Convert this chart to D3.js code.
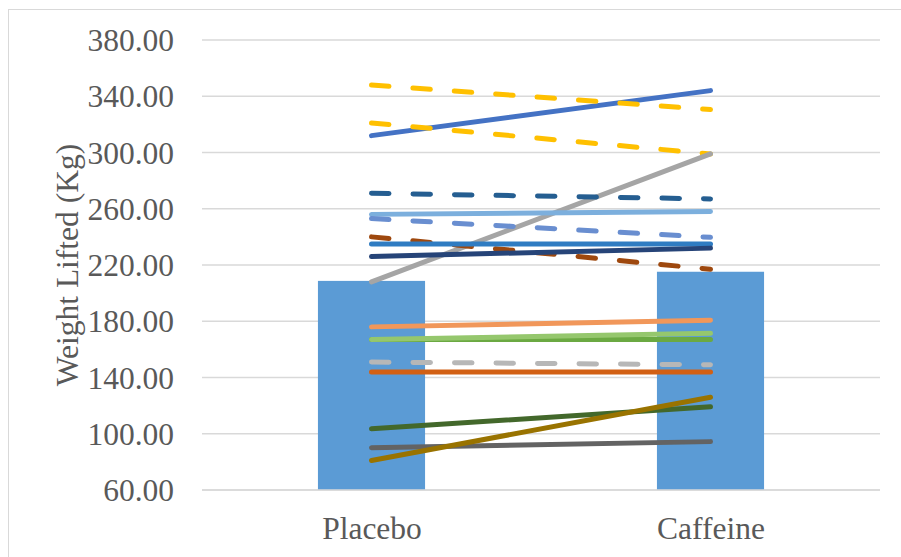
<!DOCTYPE html>
<html>
<head>
<meta charset="utf-8">
<script src="https://cdn.jsdelivr.net/npm/d3@7"></script>
<style>
  html, body { margin: 0; padding: 0; background: #fff; }
  svg { display: block; }
  svg text { font-family: "Liberation Serif", "Times New Roman", serif; }
</style>
</head>
<body>
<svg id="chart" width="901" height="557"></svg>
<script>
// ---- data ----
const categories = ["Placebo", "Caffeine"];
const barMeans = [208.7, 215.2];
const yTicks = [60, 100, 140, 180, 220, 260, 300, 340, 380];

const placebo  = [312, 348, 321, 208, 271, 256, 253, 240, 235, 226, 176, 167, 167, 151, 144, 103.5, 90, 81];
const caffeine = [344, 330.5, 299, 299, 267, 258, 239.7, 217, 235, 232, 180.7, 167, 171.4, 149, 144, 119.2, 94.4, 126];
const lineColors = ["#4472C4", "#FFC000", "#FFC000", "#A5A5A5", "#255E91", "#7CAFDD", "#698ED0", "#9E480E",
                    "#2F7CC2", "#264478", "#F1975A", "#6BA942", "#95C76D", "#B7B7B7", "#D26014", "#43682B", "#636363", "#997300"];
const lineDashed = [false, true, true, false, true, false, true, true,
                    false, false, false, false, false, true, false, false, false, false];

// ---- layout ----
const svg = d3.select("#chart");
const plot = { left: 202, right: 880, top: 40, bottom: 490 };
const textColor = "#595959";

// chart border
svg.append("rect")
  .attr("x", 8.5).attr("y", 9.5)
  .attr("width", 910).attr("height", 570)
  .attr("fill", "none").attr("stroke", "#D9D9D9").attr("stroke-width", 1);

const y = d3.scaleLinear().domain([60, 380]).range([plot.bottom, plot.top]);
const x = d3.scalePoint().domain(categories).range([plot.left, plot.right]).padding(0.5);
const barW = x.step() * 0.316;

// gridlines
svg.append("g").selectAll("line").data(yTicks).join("line")
  .attr("x1", plot.left).attr("x2", plot.right)
  .attr("y1", d => y(d)).attr("y2", d => y(d))
  .attr("stroke", "#D9D9D9").attr("stroke-width", 1.3);

// y axis labels
const yAxis = d3.axisLeft(y).tickValues(yTicks).tickFormat(d3.format(".2f")).tickSize(0).tickPadding(28);
const yg = svg.append("g").attr("transform", `translate(${plot.left},0)`).call(yAxis);
yg.attr("font-family", null);
yg.select(".domain").remove();
yg.selectAll("text")
  .attr("font-size", 31.5).attr("fill", textColor)
  .attr("dy", "0.34em");

// y axis title
svg.append("text")
  .attr("transform", `translate(78,${(plot.top + plot.bottom) / 2}) rotate(-90)`)
  .attr("text-anchor", "middle")
  .attr("font-size", 31.5).attr("fill", textColor)
  .text("Weight Lifted (Kg)");

// bars
svg.append("g").selectAll("rect").data(categories).join("rect")
  .attr("x", d => x(d) - barW / 2)
  .attr("width", barW)
  .attr("y", (d, i) => y(barMeans[i]))
  .attr("height", (d, i) => y(60) - y(barMeans[i]))
  .attr("fill", "#5B9BD5");

// x axis line
svg.append("line")
  .attr("x1", plot.left).attr("x2", plot.right)
  .attr("y1", y(60)).attr("y2", y(60))
  .attr("stroke", "#D9D9D9").attr("stroke-width", 1.3);

// x labels
const xAxis = d3.axisBottom(x).tickSize(0).tickPadding(0);
const xg = svg.append("g").attr("transform", `translate(0,${plot.bottom})`).call(xAxis);
xg.attr("font-family", null);
xg.select(".domain").remove();
xg.selectAll("text")
  .attr("font-size", 31.5).attr("fill", textColor)
  .attr("dy", null).attr("y", 49);

// individual lines
const lineGen = d3.line().x(d => x(d.c)).y(d => y(d.v));
const series = placebo.map((p, i) => ({
  pts: [{ c: categories[0], v: p }, { c: categories[1], v: caffeine[i] }],
  color: lineColors[i], dashed: lineDashed[i]
}));
svg.append("g").selectAll("path").data(series).join("path")
  .attr("d", d => lineGen(d.pts))
  .attr("fill", "none")
  .attr("stroke", d => d.color)
  .attr("stroke-width", 5)
  .attr("stroke-linecap", "round")
  .attr("stroke-dasharray", d => d.dashed ? "17.5,24" : null);
</script>
</body>
</html>
